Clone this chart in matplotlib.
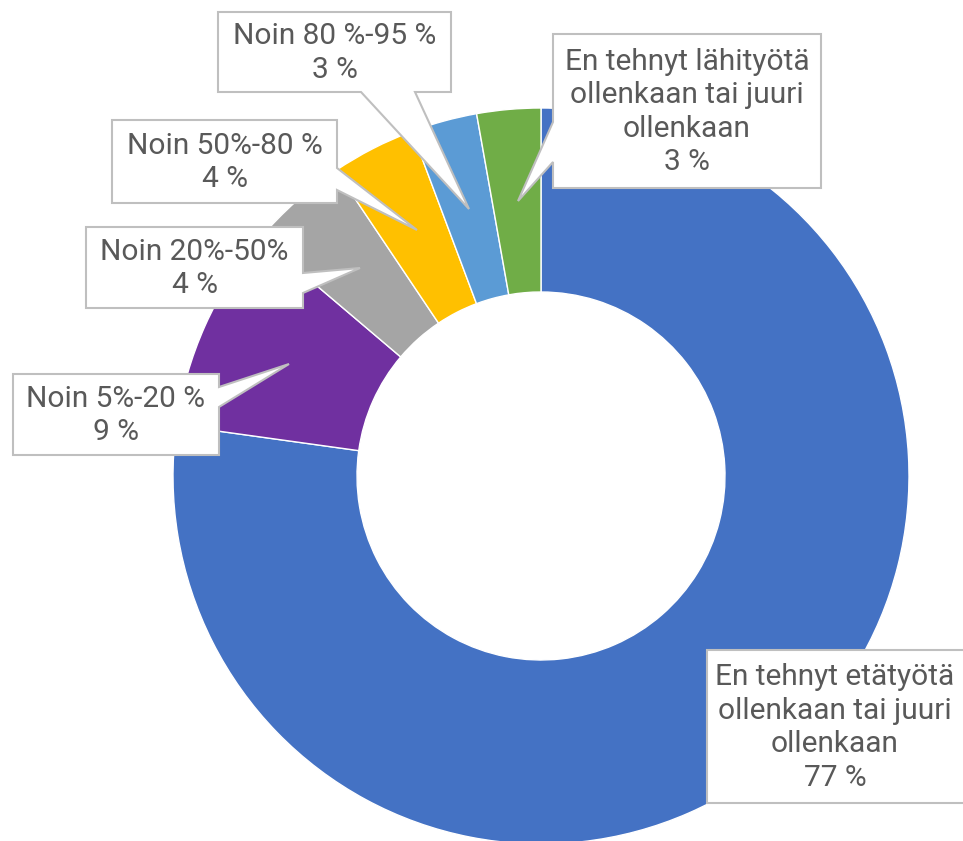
import matplotlib
matplotlib.use("Agg")
import matplotlib.pyplot as plt
from matplotlib.patches import Polygon

# ---- data ----
categories = [
    "En tehnyt etätyötä\nollenkaan tai juuri\nollenkaan",
    "Noin 5%-20 %",
    "Noin 20%-50%",
    "Noin 50%-80 %",
    "Noin 80 %-95 %",
    "En tehnyt lähityötä\nollenkaan tai juuri\nollenkaan",
]
values = [77.2, 9.0, 4.4, 3.7, 2.9, 2.8]
colors = ["#4472C4", "#7030A0", "#A5A5A5", "#FFC000", "#5B9BD5", "#70AD47"]

W, H = 963, 841
fig = plt.figure(figsize=(W / 100, H / 100), dpi=100)
ax = fig.add_axes([0, 0, 1, 1])

cx, cy, R = 541, 476, 368
ax.pie(values, colors=colors, startangle=90, counterclock=False,
       center=(cx, H - cy), radius=R,
       wedgeprops=dict(width=R * 0.5, edgecolor="white", linewidth=1))
ax.set_xlim(0, W)
ax.set_ylim(0, H)
ax.set_aspect("equal")
ax.axis("off")

# ---- callout layout (pixel coords, top-left origin) ----
# box: x0, y0, x1, y1, side, b0, b1, tip
layout = [
    (707, 650, 975, 803, None, None, None, None),
    (13, 374, 219, 455, "right", 387, 407, (289, 364)),
    (86, 227, 303, 308, "right", 273, 293, (360, 268)),
    (112, 120, 337, 203, "right", 168, 190, (417, 230)),
    (218, 12, 451, 92, "bottom", 361, 415, (469, 209)),
    (553, 34, 821, 188, "left", 122, 162, (518, 201)),
]


def P(x, y):
    return (x, H - y)


for cat, v, (x0, y0, x1, y1, side, b0, b1, tip) in zip(categories, values, layout):
    if side == "right":
        pts = [(x0, y0), (x1, y0), (x1, b0), tip, (x1, b1), (x1, y1), (x0, y1)]
    elif side == "left":
        pts = [(x0, y0), (x1, y0), (x1, y1), (x0, y1), (x0, b1), tip, (x0, b0)]
    elif side == "bottom":
        pts = [(x0, y0), (x1, y0), (x1, y1), (b1, y1), tip, (b0, y1), (x0, y1)]
    else:
        pts = [(x0, y0), (x1, y0), (x1, y1), (x0, y1)]
    poly = Polygon([P(*p) for p in pts], closed=True, facecolor="white",
                   edgecolor="#BFBFBF", linewidth=1.5, zorder=5)
    ax.add_patch(poly)
    xc = (x0 + x1) / 2 if x1 <= W else (x0 + x1) / 2 - 6
    yc = (y0 + y1) / 2 + 1
    ax.text(*P(xc, yc), f"{cat}\n{round(v)} %", ha="center", va="center",
            fontsize=21.5, color="#595959", family=["Roboto", "DejaVu Sans"],
            linespacing=1.25, zorder=6)

fig.savefig("out.png", dpi=100)
